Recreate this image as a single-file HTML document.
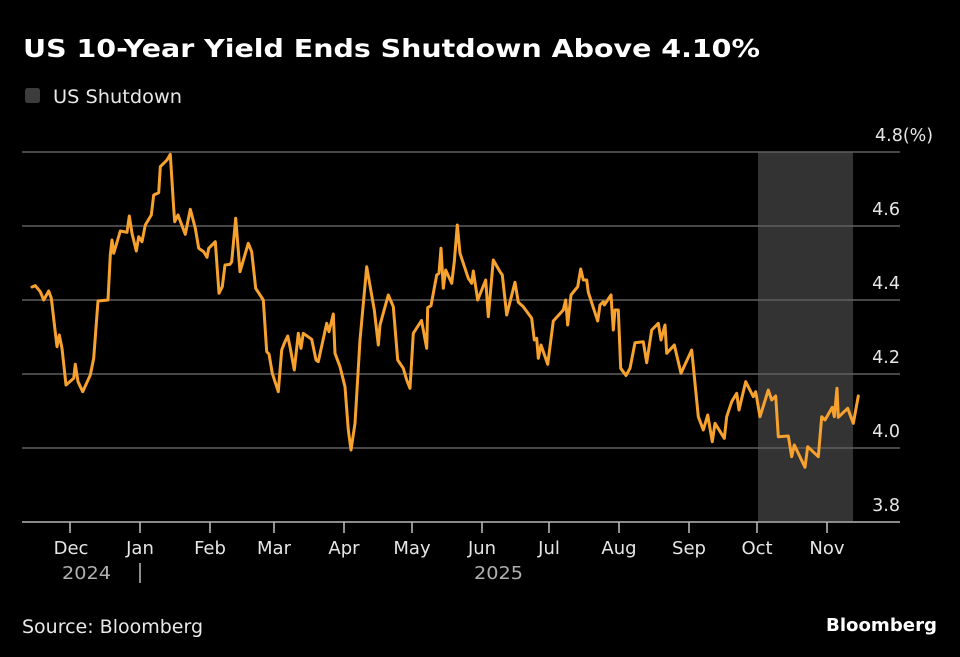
<!DOCTYPE html>
<html>
<head>
<meta charset="utf-8">
<style>
  html,body{margin:0;padding:0;background:#000;}
  svg{display:block;}
  text{font-family:"DejaVu Sans","Liberation Sans",sans-serif;}
</style>
</head>
<body>
<svg width="960" height="657" viewBox="0 0 960 657" xmlns="http://www.w3.org/2000/svg">
  <rect x="0" y="0" width="960" height="657" fill="#000"/>

  <!-- Title -->
  <text x="23" y="57" font-size="25" font-weight="bold" fill="#ffffff" textLength="737" lengthAdjust="spacingAndGlyphs">US 10-Year Yield Ends Shutdown Above 4.10%</text>

  <!-- Legend -->
  <rect x="25" y="88" width="15" height="15" rx="2.5" fill="#3c3c3c"/>
  <text x="53" y="103" font-size="19" fill="#e8e8e8" textLength="129" lengthAdjust="spacingAndGlyphs">US Shutdown</text>

  <!-- Shutdown shading -->
  <rect x="758" y="152" width="95" height="370" fill="#333333"/>

  <!-- Gridlines -->
  <g stroke="#5f5f5f" stroke-width="1.6">
    <line x1="22" y1="152" x2="900" y2="152"/>
    <line x1="22" y1="226" x2="900" y2="226"/>
    <line x1="22" y1="300" x2="900" y2="300"/>
    <line x1="22" y1="374" x2="900" y2="374"/>
    <line x1="22" y1="448" x2="900" y2="448"/>
  </g>
  <!-- X axis -->
  <line x1="22" y1="522" x2="900" y2="522" stroke="#8a8a8a" stroke-width="2"/>
  <g stroke="#b8b8b8" stroke-width="1.6">
    <line x1="70" y1="522" x2="70" y2="533"/>
    <line x1="140" y1="522" x2="140" y2="533"/>
    <line x1="210" y1="522" x2="210" y2="533"/>
    <line x1="274" y1="522" x2="274" y2="533"/>
    <line x1="344" y1="522" x2="344" y2="533"/>
    <line x1="412" y1="522" x2="412" y2="533"/>
    <line x1="482" y1="522" x2="482" y2="533"/>
    <line x1="549" y1="522" x2="549" y2="533"/>
    <line x1="619" y1="522" x2="619" y2="533"/>
    <line x1="689" y1="522" x2="689" y2="533"/>
    <line x1="757" y1="522" x2="757" y2="533"/>
    <line x1="827" y1="522" x2="827" y2="533"/>
  </g>

  <!-- Y labels -->
  <g font-size="17.5" fill="#e6e6e6">
    <text x="875" y="141">4.8(%)</text>
    <text x="900" y="215" text-anchor="end">4.6</text>
    <text x="900" y="289" text-anchor="end">4.4</text>
    <text x="900" y="363" text-anchor="end">4.2</text>
    <text x="900" y="437" text-anchor="end">4.0</text>
    <text x="900" y="511" text-anchor="end">3.8</text>
  </g>

  <!-- Month labels -->
  <g font-size="18" fill="#e6e6e6" text-anchor="middle">
    <text x="71" y="554">Dec</text>
    <text x="140" y="554">Jan</text>
    <text x="210" y="554">Feb</text>
    <text x="274" y="554">Mar</text>
    <text x="344" y="554">Apr</text>
    <text x="412" y="554">May</text>
    <text x="482" y="554">Jun</text>
    <text x="549" y="554">Jul</text>
    <text x="619" y="554">Aug</text>
    <text x="689" y="554">Sep</text>
    <text x="757" y="554">Oct</text>
    <text x="827" y="554">Nov</text>
  </g>
  <g font-size="18" fill="#b0b0b0">
    <text x="62" y="579" textLength="49" lengthAdjust="spacingAndGlyphs">2024</text>
    <text x="474" y="579" textLength="49" lengthAdjust="spacingAndGlyphs">2025</text>
  </g>
  <line x1="140" y1="563" x2="140" y2="583" stroke="#b0b0b0" stroke-width="1.6"/>

  <!-- Series -->
  <polyline fill="none" stroke="#f7a12e" stroke-width="3" stroke-linejoin="round" stroke-linecap="round"
    points="32,287 35.3,285.7 40.3,291.7 43.7,300 48.7,291 51.3,298.3 57,346.7 59.3,335 62,348.3 66,385 73.7,378.3 75.3,364.3 78,381.7 82.7,391.7 90.3,375 93.7,358.3 98,301 108,300 110.3,255 112,240 113.7,253.3 120.3,231 127,232.3 129.3,216 132,233.3 136.3,251 138.7,236.7 142,241.7 145.3,225 151.3,215 153.7,195 158.7,192.7 160.3,166.7 167,160 170.3,154.3 173.7,208.3 174.7,221.7 178,215 185.3,234.3 190.3,209.3 195.3,228.3 198.7,248.3 203.7,251.7 207,257.3 208.7,248.3 215.3,241.7 219,293.3 222.3,286.7 225,265 230,264.3 231.7,261.7 235.7,218.3 240,271.7 248.3,243.3 251.7,251.7 255.7,288.3 263.3,300 266.7,351.7 269,354 272.3,373.3 278.3,391.7 281.7,350 284.3,343.3 287.7,336 290,346.7 294.3,370 298.3,333.3 301,348.3 303.3,333.3 311.7,339.3 316,360 318.3,361.7 326.7,323.3 329,331.7 333.3,314 335,353.3 340,366.7 345,386.7 348.3,430 351,450 355,423.3 360,340 366.7,266.7 374.3,310 378.3,345 380,325 388.3,295 393.3,306.7 397.7,360 403.3,368.3 406.7,380 410,388.3 413.3,333.3 421.5,320.5 423.3,330 426.7,348.3 427.7,307.7 431,305.7 436.7,275 439,273.3 441,248.3 443.3,288.3 445.7,270 451.7,283.3 454.3,261.7 457.3,225 460,253.3 468.3,278.3 471.7,283.3 473.3,271 477.7,300 485.7,280 488.3,316.7 493.3,260 500,271.7 502.3,275 506.7,315 515,282.3 518.3,302.3 523.3,306.7 531.7,318.3 534.3,340 536.7,338.3 538.3,358.3 541,345 547.7,364.3 553.3,321 563.3,310 565.7,300 567.7,325 571,295 577.7,286.7 580.7,269 583.3,280 586.7,280 588.3,292.3 597.7,321 600,305 603.3,301.7 604.3,305 611,295 613.3,330 615,310 618.3,310 620.7,368.3 626,375.5 630,368.3 635,342.7 643.3,341.7 646.7,362.7 651.7,330 658.3,323.3 661,340 665,325 666.7,353.3 674.3,345 681,373.3 691.7,350 698.3,416.7 703.3,430 707.7,415 712.3,441.7 715,423.3 724.3,438.3 726.7,416.7 731.7,401.7 736.7,393.3 739,410 745.7,381.7 753.3,396.7 755.7,391.7 760,416.7 768.3,390 771.7,400 775.7,396 778.3,436.7 788.3,436 791.7,456.7 794.3,445 805,467.3 807.7,446.7 818.3,456.7 821.7,416.7 825,420 832.3,407.3 834.3,416.7 837,388.3 838.3,417.3 847.7,408.3 853.3,423.3 858.3,396"/>

  <!-- Footer -->
  <text x="22" y="633" font-size="19" fill="#e8e8e8" textLength="181" lengthAdjust="spacingAndGlyphs">Source: Bloomberg</text>
  <text x="937" y="631" font-size="18" font-weight="bold" fill="#ffffff" text-anchor="end" textLength="111" lengthAdjust="spacingAndGlyphs">Bloomberg</text>
</svg>
</body>
</html>
